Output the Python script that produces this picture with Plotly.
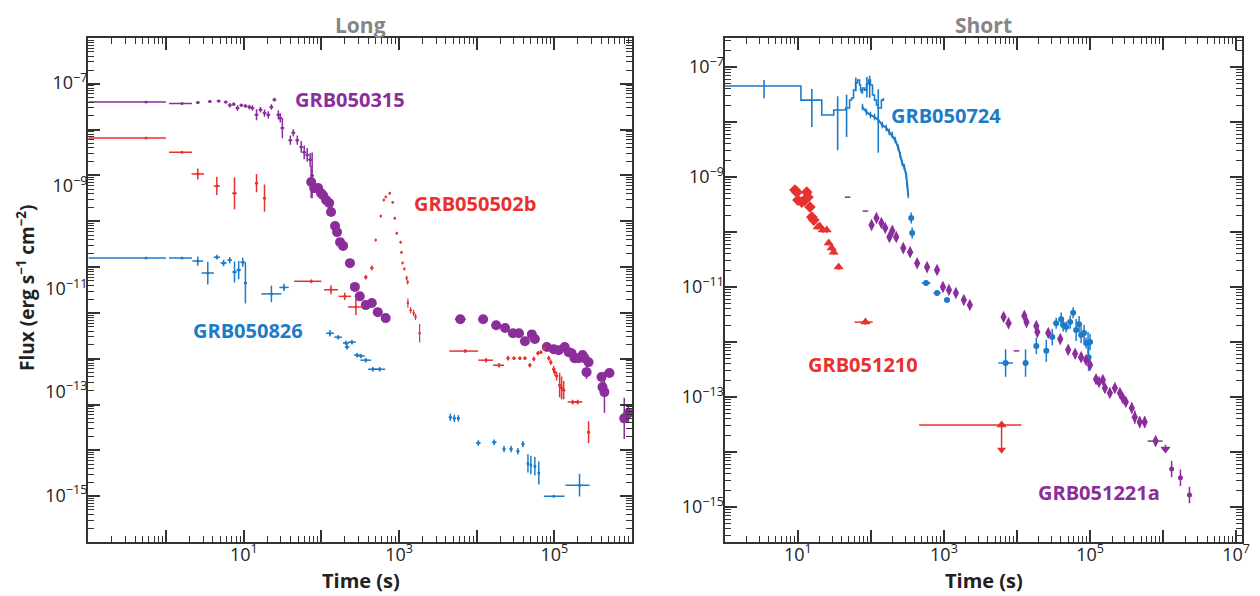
import numpy as np
import plotly.graph_objects as go

PURPLE = "#8B2D9B"
RED = "#E8312F"
BLUE = "#1C7BC8"
AX = "#333333"
FONT = "Open Sans"

# ---------------- LONG panel data ----------------
grb050315_bat_t = [0.55, 1.6, 2.56, 3.65, 4.75, 5.85, 6.6, 7.4, 8.3, 9.3, 10.5, 11.8, 12.9, 14.6, 16.4,
                   18.5, 20.7, 22.7, 24.8, 27.9, 29.5, 31.4, 39.8, 43.5, 48.9, 55, 60, 65.6, 71.6, 76]
grb050315_bat_f = [4.0e-8, 3.7e-8, 3.9e-8, 4.1e-8, 4.2e-8, 4.0e-8, 3.4e-8, 3.6e-8, 2.96e-8, 3.4e-8, 3.3e-8,
                   3.1e-8, 2.96e-8, 2.1e-8, 2.7e-8, 2.3e-8, 2.1e-8, 3.1e-8, 4.5e-8, 2.1e-8, 1.8e-8, 1.08e-8,
                   5.9e-9, 8.5e-9, 5.9e-9, 4.2e-9, 3.2e-9, 2.8e-9, 2.2e-9, 1.0e-9]
grb050315_bat_tlo = [0.743, 0.167] + [0.025] * 28
grb050315_bat_thi = [0.257, 0.128] + [0.025] * 28
grb050315_bat_fe = [0.02, 0.02, 0.03, 0.03, 0.03, 0.03, 0.05, 0.04, 0.06, 0.04, 0.04, 0.05, 0.06, 0.12, 0.06,
                    0.08, 0.08, 0.06, 0.04, 0.1, 0.1, 0.22, 0.1, 0.08, 0.1, 0.13, 0.15, 0.15, 0.15, 0.5]

grb050315_xrt_t = [73.8, 80.7, 90.8, 99, 105, 115, 126, 133, 150, 159, 174, 190, 233, 270, 312, 373, 446, 532, 673,
                   6150, 12100, 17800, 23200, 29300, 35000, 41800, 51300, 56100, 80000, 98000, 114000, 136000,
                   153000, 167000, 182000, 205000, 231000, 245000, 276000, 260000, 405000, 417000, 442000, 513000,
                   795000, 898000]
grb050315_xrt_f = [7.2e-10, 5.3e-10, 5.3e-10, 4.1e-10, 3.7e-10, 2.9e-10, 2.5e-10, 1.6e-10, 7.9e-11, 5.8e-11,
                   3.5e-11, 2.9e-11, 1.22e-11, 3.7e-12, 2.3e-12, 1.48e-12, 1.64e-12, 1.04e-12, 7.7e-13,
                   7.3e-13, 7.3e-13, 5.4e-13, 4.7e-13, 3.6e-13, 3.6e-13, 2.4e-13, 3.4e-13, 2.7e-13, 1.8e-13,
                   1.62e-13, 1.54e-13, 1.8e-13, 1.39e-13, 1.32e-13, 1.03e-13, 1.03e-13, 1.2e-13, 1.03e-13,
                   8.4e-14, 5.1e-14, 4.0e-14, 2.4e-14, 1.87e-14, 4.9e-14, 5.0e-15, 6.5e-15]
grb050315_xrt_te = [0.01] * 19 + [0.07] + [0.01] * 26
grb050315_xrt_fe = [0.35] + [0.03] * 18 + [0.04] * 20 + [0.15, 0.1, 0.12, 0.45, 0.08, 0.45, 0.2]

grb050502b_t = [0.55, 1.6, 2.56, 4.5, 7.6, 14.6, 18.5, 74, 133, 200, 278, 373, 446]
grb050502b_f = [6.6e-9, 3.2e-9, 1.07e-9, 5.9e-10, 4.1e-10, 6.8e-10, 3.2e-10, 4.9e-12, 3.2e-12, 2.3e-12,
                1.35e-12, 6.0e-12, 9.6e-12]
grb050502b_tlo = [0.743, 0.167, 0.08, 0.04, 0.03, 0.02, 0.02, 0.22, 0.09, 0.08, 0.1, 0.02, 0.02]
grb050502b_thi = [0.257, 0.128, 0.08, 0.04, 0.03, 0.02, 0.02, 0.13, 0.09, 0.08, 0.1, 0.02, 0.02]
grb050502b_fe = [0.02, 0.02, 0.12, 0.2, 0.35, 0.2, 0.3, 0.04, 0.1, 0.08, 0.18, 0.05, 0.05]

grb050502b_flare_t = [500, 581, 635, 673, 759, 828, 879, 933, 1047, 1075, 1110, 1170, 1250, 1290, 1300, 1410,
                      1540, 1630, 1840]
grb050502b_flare_f = [3.9e-11, 1.3e-10, 2.9e-10, 3.4e-10, 4.1e-10, 2.6e-10, 1.17e-10, 5.5e-11, 3.5e-11, 2.1e-11,
                      1.23e-11, 9.1e-12, 5.8e-12, 4.7e-12, 1.64e-12, 1.15e-12, 1.0e-12, 8.2e-13, 3.6e-13]
grb050502b_flare_fe = [0.03] * 12 + [0.05, 0.05, 0.1, 0.07, 0.07, 0.07, 0.2]

grb050502b_late_t = [7130, 13200, 19400, 25300, 30200, 36000, 41800, 48400, 54400, 61400, 67000, 73200, 84700,
                     90000, 98000, 101000, 107000, 117000, 124000, 132000, 172000, 200000, 276000]
grb050502b_late_f = [1.47e-13, 9.3e-14, 7.2e-14, 1.03e-13, 1.03e-13, 1.03e-13, 1.03e-13, 7.2e-14, 9.9e-14,
                     1.32e-13, 1.39e-13, 1.7e-13, 1.03e-13, 8.4e-14, 5.9e-14, 5.1e-14, 4.2e-14, 2.65e-14,
                     2.3e-14, 2.06e-14, 1.13e-14, 1.13e-14, 2.5e-15]
grb050502b_late_tlo = [0.205, 0.1, 0.077] + [0.02] * 17 + [0.064, 0.06, 0.02]
grb050502b_late_thi = [0.166, 0.09, 0.064] + [0.02] * 17 + [0.064, 0.06, 0.02]
grb050502b_late_fe = [0.04, 0.05, 0.05, 0.05, 0.04, 0.04, 0.04, 0.05, 0.05, 0.05, 0.04, 0.04, 0.05, 0.06,
                      0.07, 0.08, 0.1, 0.27, 0.25, 0.2, 0.05, 0.05, 0.24]

grb050826_t = [0.55, 1.6, 2.56, 3.44, 4.5, 5.5, 6.6, 7.6, 8.6, 9.7, 10.5, 22.7, 33, 129, 164, 207, 214, 247, 287,
               323, 373, 459, 563, 4580, 5150, 5800, 10500, 16800, 22500, 27700, 33900, 39400, 45700, 49900,
               56100, 63100, 98200, 211000]
grb050826_f = [1.58e-11, 1.58e-11, 1.35e-11, 7.4e-12, 1.65e-11, 1.23e-11, 1.42e-11, 7.8e-12, 8.6e-12, 1.28e-11,
               4.5e-12, 2.6e-12, 3.6e-12, 3.6e-13, 2.95e-13, 2.2e-13, 1.8e-13, 2.3e-13, 1.2e-13, 1.15e-13,
               9.3e-14, 5.9e-14, 5.9e-14, 5.3e-15, 5.0e-15, 5.0e-15, 1.45e-15, 1.5e-15, 1.07e-15, 1.07e-15,
               9.6e-16, 1.37e-15, 5.2e-16, 4.8e-16, 4.5e-16, 3.2e-16, 1.0e-16, 1.74e-16]
grb050826_tlo = [0.743, 0.167, 0.07, 0.08, 0.04, 0.04, 0.03, 0.03, 0.03, 0.03, 0.02, 0.13, 0.06, 0.05, 0.05,
                 0.04, 0.03, 0.05, 0.04, 0.05, 0.07, 0.06, 0.07, 0.02, 0.02, 0.02, 0.03, 0.03, 0.02, 0.02, 0.02,
                 0.02, 0.01, 0.01, 0.01, 0.01, 0.128, 0.18]
grb050826_thi = [0.257, 0.128, 0.07, 0.08, 0.04, 0.04, 0.03, 0.03, 0.03, 0.03, 0.02, 0.13, 0.06, 0.05, 0.05,
                 0.04, 0.03, 0.05, 0.04, 0.05, 0.07, 0.06, 0.07, 0.02, 0.02, 0.02, 0.03, 0.03, 0.02, 0.02, 0.02,
                 0.02, 0.01, 0.01, 0.01, 0.01, 0.14, 0.13]
grb050826_fe = [0.02, 0.02, 0.1, 0.25, 0.05, 0.07, 0.07, 0.23, 0.2, 0.1, 0.45, 0.18, 0.08, 0.07, 0.05, 0.05,
                0.06, 0.05, 0.05, 0.05, 0.05, 0.05, 0.05, 0.08, 0.08, 0.07, 0.06, 0.06, 0.07, 0.07, 0.07, 0.07,
                0.2, 0.2, 0.2, 0.25, 0.02, 0.25]

# ---------------- SHORT panel data ----------------
grb050724_bat_t = [1, 11, 21.2, 30.9, 45, 51, 54.3, 57.8, 61.5, 65.5, 69.8, 72, 74.3, 76.6, 81.6, 86.9, 92.5,
                   98.5, 105, 112, 119, 126, 139, 148]
grb050724_bat_f = [4.5e-8, 2.5e-8, 1.34e-8, 1.65e-8, 1.8e-8, 2.51e-8, 2.73e-8, 3.82e-8, 5.1e-8, 5.8e-8, 4.7e-8,
                   3.8e-8, 3.4e-8, 4.15e-8, 3.8e-8, 4.9e-8, 5.8e-8, 4.7e-8, 3.1e-8, 2.5e-8, 2.04e-8, 1.8e-8,
                   2.5e-8, 2.73e-8]
grb050724_baterr_t = [3.44, 15.5, 35, 46.4, 126, 62, 88, 96]
grb050724_baterr_f = [4.5e-8, 2.5e-8, 1.65e-8, 1.8e-8, 2.2e-8, 5.1e-8, 5.0e-8, 5.5e-8]
grb050724_baterr_up = [0.11, 0.2, 0.25, 0.24, 0.25, 0.1, 0.12, 0.1]
grb050724_baterr_dn = [0.22, 0.49, 0.73, 0.53, 0.9, 0.15, 0.25, 0.3]

grb050724_wt_t = [76.6, 86.9, 98.5, 112, 126, 143, 162, 178, 196, 215, 237, 252, 268, 286, 304, 314, 324]
grb050724_wt_f = [1.87e-8, 1.52e-8, 1.34e-8, 1.23e-8, 1.09e-8, 8.8e-9, 7.8e-9, 6.6e-9, 5.8e-9, 4.7e-9, 3.4e-9,
                  2.5e-9, 1.8e-9, 1.52e-9, 1.09e-9, 7.2e-10, 4.7e-10]

grb050724_pc_t = [356, 367, 569, 804, 1100, 6980, 13100, 18400, 25200, 30400, 34400, 40300, 42900, 47100, 53400,
                  58700, 64500, 70800, 75500, 82800, 88300, 94000, 100000, 95500]
grb050724_pc_f = [1.8e-10, 9.6e-11, 1.18e-11, 7.8e-12, 5.8e-12, 4.15e-13, 4.15e-13, 8.5e-13, 6.9e-13, 1.23e-12,
                  2.2e-12, 2.6e-12, 2.04e-12, 1.87e-12, 2.3e-12, 3.4e-12, 1.65e-12, 2.1e-12, 1.34e-12, 1.46e-12,
                  9.6e-13, 9.6e-13, 1.0e-12, 5.3e-13]
grb050724_pc_te = [0.01, 0.01, 0.06, 0.05, 0.04, 0.1, 0.02, 0.02, 0.02, 0.02, 0.02, 0.02, 0.02, 0.02, 0.02, 0.02,
                   0.02, 0.02, 0.02, 0.02, 0.02, 0.02, 0.02, 0.02]
grb050724_pc_fe = [0.1, 0.1, 0.05, 0.05, 0.05, 0.25, 0.25, 0.15, 0.2, 0.15, 0.1, 0.12, 0.12, 0.1, 0.12, 0.1,
                   0.2, 0.15, 0.15, 0.15, 0.1, 0.2, 0.15, 0.25]

grb051210_dia_t = [9.1, 9.7, 10, 11.3, 12.4, 13.2, 13.7, 14.6, 15.5, 16.5]
grb051210_dia_f = [5.8e-10, 5.3e-10, 3.8e-10, 3.5e-10, 3.8e-10, 5.3e-10, 4.3e-10, 2.85e-10, 1.87e-10, 1.65e-10]
grb051210_tri_t = [18.7, 19.9, 21.9, 24.8, 26.4, 29, 30.9, 36.1, 84]
grb051210_tri_f = [1.23e-10, 1.29e-10, 1.09e-10, 1.09e-10, 6.3e-11, 5.1e-11, 4.3e-11, 2.3e-11, 2.3e-12]
grb051210_tri_tlo = [0.01] * 8 + [0.148]
grb051210_tri_thi = [0.01] * 8 + [0.1]
grb051210_ul_t = [6150]
grb051210_ul_f = [3.1e-14]
grb051210_ul_tlo = [1.129]
grb051210_ul_thi = [0.272]

grb051221a_t = [102, 119, 139, 157, 179, 196, 222, 277, 344, 429, 587, 804, 969, 1170, 1456, 1870, 2260, 6550,
                7660, 12600, 13500, 18400, 19000, 26800, 39100, 50200, 62500, 75500, 88300, 100000, 121000,
                133000, 150000, 160000, 187000, 219000, 257000, 281000, 309000, 373000, 410000, 479000, 560000,
                791000]
grb051221a_f = [1.34e-10, 1.8e-10, 1.46e-10, 1.18e-10, 8.1e-11, 1.05e-10, 8.1e-11, 5.1e-11, 4.3e-11, 2.7e-11,
                2.3e-11, 2.04e-11, 1.0e-11, 8.8e-12, 7.8e-12, 5.8e-12, 4.7e-12, 2.85e-12, 2.2e-12, 3.0e-12,
                2.3e-12, 1.95e-12, 1.52e-12, 1.46e-12, 1.13e-12, 7.2e-13, 6.1e-13, 5.3e-13, 4.7e-13, 3.8e-13,
                2.1e-13, 1.87e-13, 2.04e-13, 1.46e-13, 1.18e-13, 1.46e-13, 1.18e-13, 9.6e-14, 8.1e-14, 6.3e-14,
                4.3e-14, 3.5e-14, 3.5e-14, 1.58e-14]
grb051221a_tlo = [0.015] * 43 + [0.109]
grb051221a_thi = [0.015] * 43 + [0.095]
grb051221a_fe = [0.05] * 39 + [0.1, 0.12, 0.1, 0.1, 0.05]
grb051221a_tail_t = [1.31e6, 1.73e6, 2.3e6]
grb051221a_tail_f = [4.9e-15, 3.4e-15, 1.65e-15]
grb051221a_ul_t = [1.08e6]
grb051221a_ul_f = [1.13e-14]
grb051221a_dot_t = [47.9, 84, 9840]
grb051221a_dot_f = [4.3e-10, 2.4e-10, 6.9e-13]

# tick labels
long_x_labels = [1, 3, 5]
short_x_labels = [1, 3, 5, 7]
long_y_labels = [-7, -9, -11, -13, -15]
long_y_label_pos = [-6.98, -9.23, -11.48, -13.71, -15.98]   # where the reference prints them
short_y_labels = [-7, -9, -11, -13, -15]

# ---------------- helpers ----------------
def arr(v, n):
    a = np.array(v, dtype=float)
    return np.broadcast_to(a, (n,)) if a.ndim == 0 else a


def points(t, f, color, xa, ya, tlo=0.0, thi=None, flo=0.0, fhi=None, symbol="circle", size=3,
           thick=1.5, mode="markers", line=None):
    t = np.array(t, dtype=float)
    f = np.array(f, dtype=float)
    n = len(t)
    tlo = arr(tlo, n)
    thi = tlo if thi is None else arr(thi, n)
    flo = arr(flo, n)
    fhi = flo if fhi is None else arr(fhi, n)
    return go.Scatter(
        x=t, y=f, mode=mode, xaxis=xa, yaxis=ya, showlegend=False, hoverinfo="skip",
        marker=dict(color=color, symbol=symbol, size=size, line=dict(width=0)),
        line=line if line is not None else dict(color=color, width=1.5),
        error_x=dict(type="data", symmetric=False, array=t * (10 ** thi - 1), arrayminus=t * (1 - 10 ** (-tlo)),
                     color=color, thickness=thick, width=0),
        error_y=dict(type="data", symmetric=False, array=f * (10 ** fhi - 1), arrayminus=f * (1 - 10 ** (-flo)),
                     color=color, thickness=thick, width=0),
    )


fig = go.Figure()

# LONG panel (x, y)
fig.add_trace(points(grb050315_bat_t, grb050315_bat_f, PURPLE, "x", "y", grb050315_bat_tlo, grb050315_bat_thi,
                     grb050315_bat_fe, size=3))
fig.add_trace(points(grb050315_xrt_t, grb050315_xrt_f, PURPLE, "x", "y", grb050315_xrt_te, None,
                     grb050315_xrt_fe, size=10))
fig.add_trace(points(grb050502b_t, grb050502b_f, RED, "x", "y", grb050502b_tlo, grb050502b_thi, grb050502b_fe,
                     size=3))
fig.add_trace(points(grb050502b_flare_t, grb050502b_flare_f, RED, "x", "y", 0.006, None, grb050502b_flare_fe,
                     size=2.5, thick=1.2))
fig.add_trace(points(grb050502b_late_t, grb050502b_late_f, RED, "x", "y", grb050502b_late_tlo,
                     grb050502b_late_thi, grb050502b_late_fe, size=3))
fig.add_trace(points(grb050826_t, grb050826_f, BLUE, "x", "y", grb050826_tlo, grb050826_thi, grb050826_fe,
                     size=3))

# SHORT panel (x2, y2)
fig.add_trace(go.Scatter(x=grb050724_bat_t, y=grb050724_bat_f, mode="lines", line=dict(color=BLUE, width=1.6,
                         shape="hv"), xaxis="x2", yaxis="y2", showlegend=False, hoverinfo="skip"))
fig.add_trace(points(grb050724_baterr_t, grb050724_baterr_f, BLUE, "x2", "y2", 0.0, None, grb050724_baterr_dn,
                     grb050724_baterr_up, size=1, thick=1.6))
fig.add_trace(points(grb050724_wt_t, grb050724_wt_f, BLUE, "x2", "y2", 0.0, None, 0.06, None, size=2,
                     mode="lines+markers", thick=1.4, line=dict(color=BLUE, width=2)))
fig.add_trace(points(grb050724_pc_t, grb050724_pc_f, BLUE, "x2", "y2", grb050724_pc_te, None, grb050724_pc_fe,
                     size=6))
fig.add_trace(points(grb051210_dia_t, grb051210_dia_f, RED, "x2", "y2", 0.01, None, 0.04, symbol="diamond",
                     size=9))
fig.add_trace(points(grb051210_tri_t, grb051210_tri_f, RED, "x2", "y2", grb051210_tri_tlo, grb051210_tri_thi,
                     0.05, symbol="triangle-up", size=9))
ARROW_DEX = 0.45
fig.add_trace(points(grb051210_ul_t, grb051210_ul_f, RED, "x2", "y2", grb051210_ul_tlo, grb051210_ul_thi,
                     ARROW_DEX, 0.0, symbol="triangle-up", size=9))
fig.add_trace(go.Scatter(x=grb051210_ul_t, y=np.array(grb051210_ul_f) * 10 ** (-ARROW_DEX), mode="markers",
                         marker=dict(color=RED, symbol="triangle-down", size=8), xaxis="x2", yaxis="y2",
                         showlegend=False, hoverinfo="skip"))
fig.add_trace(points(grb051221a_t, grb051221a_f, PURPLE, "x2", "y2", grb051221a_tlo, grb051221a_thi,
                     grb051221a_fe, symbol="diamond-tall", size=9))
fig.add_trace(points(grb051221a_tail_t, grb051221a_tail_f, PURPLE, "x2", "y2", 0.015, None, 0.15, size=5))
fig.add_trace(points(grb051221a_ul_t, grb051221a_ul_f, PURPLE, "x2", "y2", 0.04, None, 0.0, 0.08,
                     symbol="triangle-down", size=9))
fig.add_trace(go.Scatter(x=grb051221a_dot_t, y=grb051221a_dot_f, mode="markers",
                         marker=dict(color=PURPLE, symbol="line-ew", size=4, line=dict(color=PURPLE, width=1.5)),
                         xaxis="x2", yaxis="y2", showlegend=False, hoverinfo="skip"))

# empty traces so the label-only overlay axes are drawn
for xa, ya in (("x", "y3"), ("x3", "y"), ("x2", "y4"), ("x4", "y2")):
    fig.add_trace(go.Scatter(x=[None], y=[None], xaxis=xa, yaxis=ya, showlegend=False, hoverinfo="skip"))

# ---------------- geometry (page has an 8px body margin) ----------------
OFF = 8
W, H = 1260 - OFF, 596 - OFF


def px(x):
    return (x - OFF) / W


def py(y):
    return 1 - (y - OFF) / H


XD1 = [px(89), px(636)]
XD2 = [px(729.5), px(1250)]
YD = [py(542), py(38)]


def decades(lo, hi):
    return [10.0 ** k for k in range(lo, hi + 1)]


def minors(lo, hi):
    return [m * 10.0 ** k for k in range(lo, hi + 1) for m in range(2, 10)]


def sup(k):
    return "10<sup>" + str(k).replace("-", "\u2212") + "</sup>"


TICKFONT = dict(family=FONT, size=18, color="#222222")


def tick_axis(rng, lo, hi, domain, anchor):
    return dict(
        type="log", range=rng, autorange=False, domain=domain, anchor=anchor,
        showgrid=False, zeroline=False, showline=True, linecolor=AX, linewidth=2, mirror="ticks",
        ticks="inside", ticklen=12, tickwidth=1.5, tickcolor=AX,
        tickmode="array", tickvals=decades(lo, hi), showticklabels=False,
        minor=dict(ticks="inside", ticklen=6, tickwidth=1, tickcolor=AX, tickmode="array",
                   tickvals=minors(lo - 1, hi), showgrid=False),
    )


def label_axis(rng, over, anchor, side, exps, pos=None):
    pos = exps if pos is None else pos
    return dict(type="log", range=rng, autorange=False, overlaying=over, anchor=anchor, side=side,
                showgrid=False, zeroline=False, showline=False, ticks="", tickmode="array",
                tickvals=[10.0 ** p for p in pos], ticktext=[sup(k) for k in exps], tickfont=TICKFONT)


XR1, YR1 = [-1, 6], [-17, -6]
XR2, YR2 = [0, 7.082], [-15.636, -6.473]

fig.update_layout(
    width=W, height=H, margin=dict(l=0, r=0, t=0, b=0),
    paper_bgcolor="white", plot_bgcolor="white", showlegend=False,
    xaxis=tick_axis(XR1, -1, 6, XD1, "y"),
    yaxis=tick_axis(YR1, -17, -6, YD, "x"),
    xaxis2=tick_axis(XR2, 0, 7, XD2, "y2"),
    yaxis2=tick_axis(YR2, -16, -6, YD, "x2"),
    xaxis3=label_axis(XR1, "x", "y", "bottom", long_x_labels),
    yaxis3=label_axis(YR1, "y", "x", "left", long_y_labels, long_y_label_pos),
    xaxis4=label_axis(XR2, "x2", "y2", "bottom", short_x_labels),
    yaxis4=label_axis(YR2, "y2", "x2", "left", short_y_labels),
)


def ann(text, x, y, color, size=20, xanchor="left", angle=0, yanchor="middle"):
    return dict(text=text, x=px(x), y=py(y), xref="paper", yref="paper", showarrow=False,
                xanchor=xanchor, yanchor=yanchor, textangle=angle,
                font=dict(family=FONT, size=size, color=color, weight="bold"))


fig.update_layout(annotations=[
    ann("Long", 363, 8.5, "#858585", 21, "center", yanchor="top"),
    ann("Short", 990, 8.5, "#858585", 21, "center", yanchor="top"),
    ann("Time (s)", 363, 580, "#222222", 20, "center"),
    ann("Time (s)", 990, 580, "#222222", 20, "center"),
    ann("Flux (erg s<sup>\u22121</sup> cm<sup>\u22122</sup>)", 26, 288, "#222222", 19, "center", -90),
    ann("GRB050315", 295, 100, PURPLE, 20),
    ann("GRB050502b", 415, 203, RED, 20),
    ann("GRB050826", 192, 330, BLUE, 20),
    ann("GRB050724", 895, 116, BLUE, 20),
    ann("GRB051210", 811, 364, RED, 20),
    ann("GRB051221a", 1043, 492, PURPLE, 20),
])

fig.write_html("out.html")
